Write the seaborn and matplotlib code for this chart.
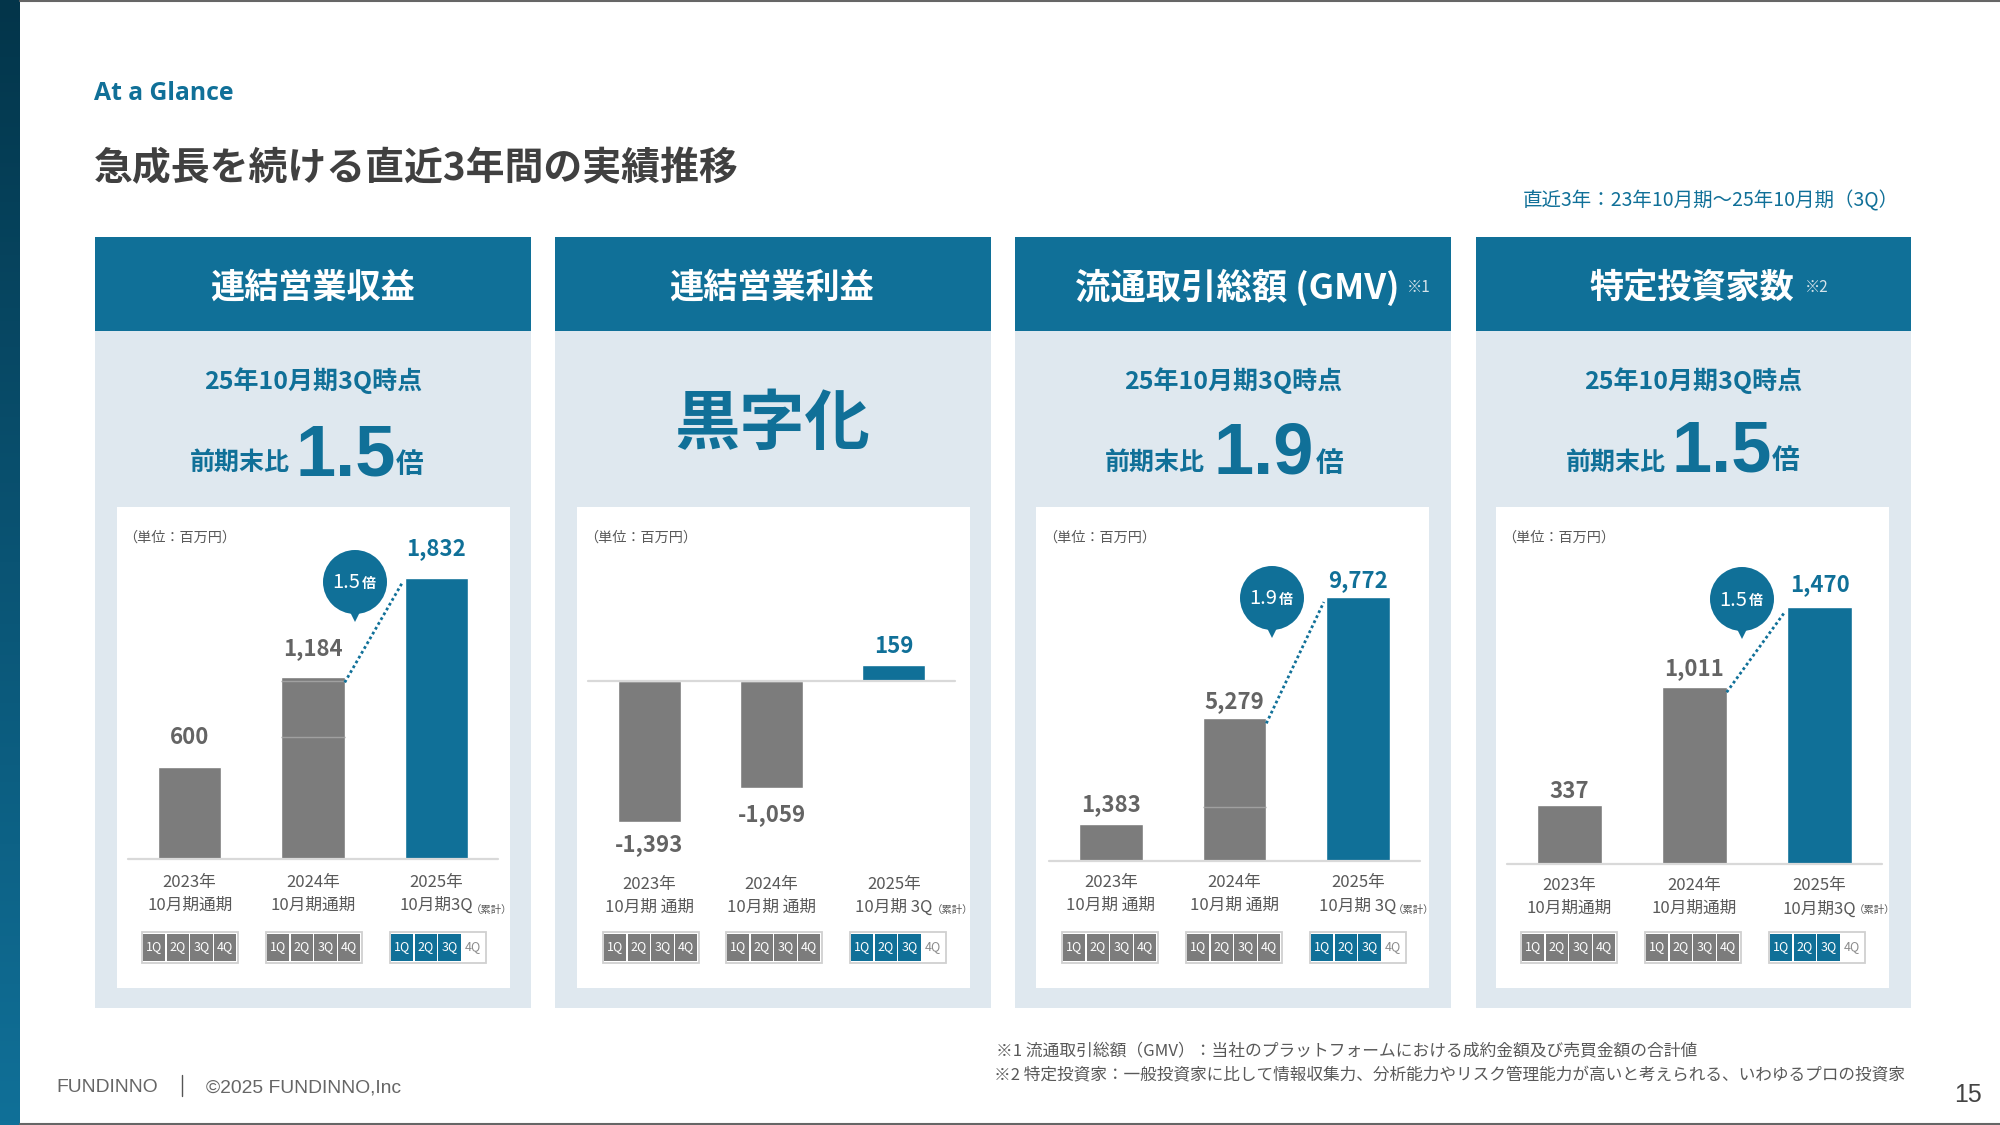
import matplotlib
matplotlib.use("Agg")
import matplotlib.pyplot as plt
from matplotlib.colors import LinearSegmentedColormap
from matplotlib.patches import Circle, Polygon, Rectangle
import numpy as np
import seaborn as sns

# values
revenue_labels = ["2023年\n10月期通期", "2024年\n10月期通期", "2025年\n10月期3Q"]
revenue_values = [600, 1184, 1832]
revenue_breaks = [798, 1158]

profit_labels = ["2023年\n10月期 通期", "2024年\n10月期 通期", "2025年\n10月期 3Q"]
profit_values = [-1393, -1059, 159]

gmv_labels = ["2023年\n10月期 通期", "2024年\n10月期 通期", "2025年\n10月期 3Q"]
gmv_values = [1383, 5279, 9772]
gmv_breaks = [2006]

investor_labels = ["2023年\n10月期通期", "2024年\n10月期通期", "2025年\n10月期3Q"]
investor_values = [337, 1011, 1470]

panel_titles = ["連結営業収益", "連結営業利益", "流通取引総額 (GMV)", "特定投資家数"]
growth_texts = ["1.5", None, "1.9", "1.5"]
quarters = ["1Q", "2Q", "3Q", "4Q"]
quarters_done = [4, 4, 3]

BLUE = "#107098"
GRAY = "#7c7c7c"
TEXT = "#595959"
PANEL = "#dfe8ef"
LINE = "#d9d9d9"
BAR_W = 0.515
CJK = ["Noto Sans CJK JP", "DejaVu Sans"]
LATIN = ["Liberation Sans", "DejaVu Sans"]

sns.set_theme(style="white")
plt.rcParams["font.family"] = CJK

fig = plt.figure(figsize=(20, 11.25), dpi=100, facecolor="white")

# whole-slide axes in pixel coordinates for the decoration
bg = fig.add_axes([0, 0, 1, 1], zorder=0)

cmap = LinearSegmentedColormap.from_list("side", ["#03354a", "#0a5474", BLUE])
bg.imshow(np.linspace(0, 1, 256).reshape(-1, 1), cmap=cmap, aspect="auto",
          extent=[0, 20, 1125, 0])
bg.set_xlim(0, 2000)
bg.set_ylim(1125, 0)
bg.axis("off")
bg.plot([20, 2000], [0.5, 0.5], color="#666666", lw=1.5)
bg.plot([20, 2000], [1124.3, 1124.3], color="#666666", lw=1.5)

bg.text(94, 93, "At a Glance", family=["Open Sans"], fontsize=17.8, fontweight="bold",
        color=BLUE, va="center")
bg.text(94, 169, "急成長を続ける直近3年間の実績推移", fontsize=28, fontweight="bold",
        color="#404040", va="center")
bg.text(1899, 201, "直近3年：23年10月期～25年10月期（3Q）", fontsize=14, color=BLUE,
        va="center", ha="right")


def quarter_boxes(x0, n_done):
    bg.add_patch(Rectangle((x0 + 0.5, 932), 96, 31, fc="white", ec="#d0d0d0", lw=1.3))
    for i, q in enumerate(quarters):
        done = i < n_done
        cx = x0 + 2 + i * 23.6
        color = GRAY if n_done == 4 else BLUE
        if done:
            bg.add_patch(Rectangle((cx, 934), 22.4, 27, fc=color, ec="none"))
        bg.text(cx + 11.2, 947, q, fontsize=9, ha="center", va="center",
                color="white" if done else "#8c8c8c")


def bubble(cx, cy, text):
    bg.add_patch(Circle((cx, cy), 32, fc=BLUE, ec="none"))
    bg.add_patch(Polygon([(cx - 5, cy + 30), (cx + 5, cy + 30), (cx, cy + 40)], fc=BLUE, ec="none"))
    bg.text(cx + 5, cy + 1, text, fontsize=14.5, color="white", ha="right", va="center")
    bg.text(cx + 7, cy + 2, "倍", fontsize=10, fontweight="bold", color="white", ha="left", va="center")


def bar_panel(left, right, base, bottom, px_per_unit, labels, values, offsets, label_y_pad):
    top = 510
    ax = fig.add_axes([left / 2000, 1 - bottom / 1125, (right - left) / 2000, (bottom - top) / 1125],
                      zorder=1)
    ax.patch.set_alpha(0)
    colors = [GRAY, GRAY, BLUE]
    sns.barplot(x=labels, y=values, hue=labels, palette=colors, width=BAR_W, legend=False,
                saturation=1, ax=ax)
    ax.set_xlim(-0.5, 2.5)
    ax.set_ylim((base - bottom) / px_per_unit, (base - top) / px_per_unit)
    ax.axhline(0, color=LINE, lw=1.6, zorder=3, clip_on=False)
    ax.set_yticks([])
    ax.set_xlabel("")
    ax.set_ylabel("")
    ax.tick_params(axis="x", length=0, pad=label_y_pad, labelsize=12, labelcolor=TEXT)
    for t in ax.get_xticklabels():
        t.set_linespacing(1.46)
    sns.despine(ax=ax, left=True, bottom=True)
    for i, v in enumerate(values):
        off = (offsets[i] if v > 0 else -offsets[i]) - 2
        ax.annotate(f"{v:,}", (i, v), xytext=(0, off * 0.72),
                    textcoords="offset points", ha="center", va="center", fontsize=16,
                    fontweight="bold", color=BLUE if i == 2 else "#646464", annotation_clip=False)
    return ax


def draw_breaks(ax, breaks):
    ax.hlines(breaks, 1 - BAR_W / 2, 1 + BAR_W / 2, color="#a0a0a0", lw=1, zorder=3)


def draw_link(ax, values, px_per_unit, end_gap):
    ax.plot([1 + BAR_W / 2, 2 - BAR_W / 2 - end_gap], [values[1] - 5 / px_per_unit, values[2] - 5 / px_per_unit],
            color=BLUE, lw=2, linestyle=(0, (1, 1)), clip_on=False, zorder=4)


panels = [
    dict(px=(95, 531), card=(117, 510), axis=(128, 498), base=859, bottom=859,
         scale=281 / 1832, labels=revenue_labels, values=revenue_values, offsets=[31, 31, 31],
         pad=10.5, unit=123, boxes=[141, 265, 389], note=(471, 910), bub=(355, 582)),
    dict(px=(555, 991), card=(577, 970), axis=(588, 955), base=681, bottom=861,
         scale=141 / 1393, labels=profit_labels, values=profit_values, offsets=[21, 24, 20],
         pad=10.5, unit=584, boxes=[602, 725, 849], note=(932, 910), bub=None),
    dict(px=(1015, 1451), card=(1036, 1429), axis=(1049, 1420), base=861, bottom=861,
         scale=264 / 9772, labels=gmv_labels, values=gmv_values, offsets=[21, 19, 18],
         pad=9.5, unit=1043, boxes=[1061, 1185, 1309], note=(1393, 910), bub=(1272, 598)),
    dict(px=(1476, 1911), card=(1496, 1889), axis=(1507, 1882), base=864, bottom=864,
         scale=257 / 1470, labels=investor_labels, values=investor_values, offsets=[16, 21, 24],
         pad=9.5, unit=1502, boxes=[1520, 1644, 1768], note=(1854, 910), bub=(1742, 599)),
]

for n, p in enumerate(panels):
    x0, x1 = p["px"]
    bg.add_patch(Rectangle((x0, 331), x1 - x0, 677, fc=PANEL, ec="none"))
    bg.add_patch(Rectangle((x0, 237), x1 - x0, 94, fc=BLUE, ec="none"))
    bg.add_patch(Rectangle((p["card"][0], 507), p["card"][1] - p["card"][0], 481, fc="white", ec="none"))
    bg.text(p["unit"], 538, "（単位：百万円）", fontsize=10.2, color=TEXT, va="center")
    bg.text(p["note"][0], p["note"][1], "（累計）", fontsize=7.5, color=TEXT, va="center")
    for bx, done in zip(p["boxes"], quarters_done):
        quarter_boxes(bx, done)
    if p["bub"]:
        bubble(p["bub"][0], p["bub"][1], growth_texts[n])
    ax = bar_panel(p["axis"][0], p["axis"][1], p["base"], p["bottom"], p["scale"],
                   p["labels"], p["values"], p["offsets"], p["pad"])
    if n == 0:
        draw_breaks(ax, revenue_breaks)
    if n == 2:
        draw_breaks(ax, gmv_breaks)
    if p["bub"]:
        draw_link(ax, p["values"], p["scale"], 0.02)

# panel headers
bg.text(313, 287, panel_titles[0], fontsize=24.6, fontweight="bold", color="white", ha="center", va="center")
bg.text(772, 287, panel_titles[1], fontsize=24.6, fontweight="bold", color="white", ha="center", va="center")
bg.text(1237, 287, panel_titles[2], fontsize=25.5, fontweight="bold", color="white", ha="center", va="center")
bg.text(1407, 287, "※1", fontsize=11, color="#d5e3ea", va="center")
bg.text(1692, 287, panel_titles[3], fontsize=24.6, fontweight="bold", color="white", ha="center", va="center")
bg.text(1805, 287, "※2", fontsize=11, color="#d5e3ea", va="center")

# headline figures
for cx in [313, 1233, 1693]:
    bg.text(cx, 381, "25年10月期3Q時点", fontsize=18, fontweight="bold", color=BLUE, ha="center", va="center")
headlines = [(190, 296, 396, 475, "1.5", 470), (1105, 1213, 1316, 474, "1.9", 470), (1566, 1671, 1772, 471, "1.5", 470)]
for xa, xb, xc, yb, txt, y_front in headlines:
    bg.text(xa, y_front, "前期末比", fontsize=18, fontweight="bold", color=BLUE, va="baseline")
    bg.text(xb, yb, txt, family=LATIN, fontsize=52, fontweight="bold", color=BLUE, va="baseline")
    bg.text(xc, yb - 2, "倍", fontsize=20, fontweight="bold", color=BLUE, va="baseline")
bg.text(772, 424, "黒字化", fontsize=47, fontweight="bold", color=BLUE, ha="center", va="center")

# footer
bg.text(996, 1052, "※1 流通取引総額（GMV）：当社のプラットフォームにおける成約金額及び売買金額の合計値",
        fontsize=12.05, color=TEXT, va="center")
bg.text(994, 1075, "※2 特定投資家：一般投資家に比して情報収集力、分析能力やリスク管理能力が高いと考えられる、いわゆるプロの投資家",
        fontsize=12, color=TEXT, va="center")
bg.text(56, 1088, "FUNDINNO", family=LATIN, fontsize=13.9, color="#666666", va="center")
bg.plot([182, 182], [1075, 1096], color="#555555", lw=1)
bg.text(206, 1088, "©2025 FUNDINNO,Inc", family=LATIN, fontsize=13.9, color="#666666", va="center")
bg.text(1982, 1095, "15", family=LATIN, fontsize=18, color="#444444", ha="right", va="center")

fig.savefig("out.png", dpi=100)
